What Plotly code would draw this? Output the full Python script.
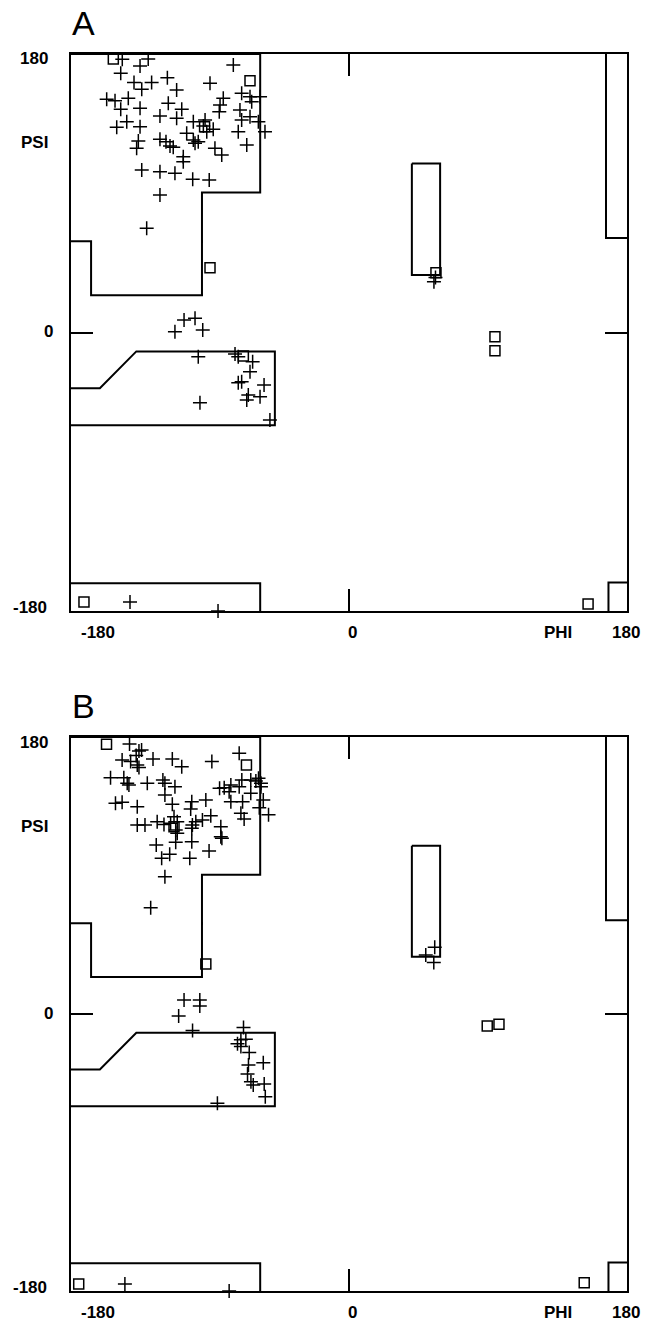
import plotly.graph_objects as go

W, H = 645, 1322

# ---------------- data (degrees) ----------------
# Panel A : "+" residues
a_plus_phi = [-146.8, -130.0, -135.3, -74.9, -147.8, -139.2, -134.2, -127.8, -117.6, -111.6,
              -90.0, -156.9, -151.5, -142.9, -147.8, -135.3, -117.0, -108.3, -122.4, -111.6,
              -150.4, -143.9, -135.3, -136.4, -137.5, -122.4, -118.5, -115.9, -113.8, -105.1,
              -100.8, -99.7, -97.6, -100.8, -93.2, -94.3, -87.9, -92.1, -107.3, -107.3,
              -86.8, -82.4, -134.2, -122.4, -112.7, -101.2, -90.5, -122.4, -131.0, -81.4,
              -83.5, -84.0, -69.5, -64.1, -57.6, -70.6, -63.0, -64.1, -69.5, -58.7,
              -54.4, -71.7, -66.2,
              -106.8, -99.7, -112.7, -94.7, -97.6, -73.8, -71.7, -62.4, -64.1, -69.5,
              -71.7, -55.0, -65.2, -57.6, -66.2, -96.5, -51.2,
              56.0, 55.0, -141.8, -84.8]
a_plus_psi = [176.6, 176.8, 172.2, 172.9, 167.5, 161.5, 157.2, 161.5, 164.7, 156.7,
              161.1, 150.7, 149.8, 151.4, 144.3, 144.9, 148.1, 144.3, 139.9, 138.4,
              132.6, 136.2, 133.0, 123.8, 119.1, 124.9, 123.3, 120.5, 119.7, 128.7,
              124.4, 122.3, 123.3, 136.2, 137.3, 133.5, 131.3, 129.8, 113.6, 110.4,
              119.1, 114.7, 105.0, 103.9, 102.9, 99.0, 98.6, 88.9, 67.3, 151.4,
              147.0, 142.7, 154.6, 152.4, 152.4, 143.8, 149.2, 139.5, 137.3, 136.2,
              129.8, 129.8, 121.2,
              8.1, 9.2, 0.5, 1.6, -15.7, -13.9, -15.7, -18.9, -25.4, -31.8,
              -32.5, -34.0, -40.4, -41.5, -43.7, -45.4, -56.6,
              35.5, 32.8, -174.2, -180.0]
# Panel A : squares (glycines)
a_sq_phi = [-152.6, -64.1, -93.5, -90.0, -68.4, 56.3, 94.5, 94.5, -171.6, 154.8]
a_sq_psi = [176.8, 162.7, 133.0, 41.9, -15.2, 38.6, -2.7, -11.8, -174.2, -175.5]

# Panel B : "+" residues
b_plus_phi = [-142.1, -136.0, -134.3, -137.8, -146.9, -141.4, -137.1, -136.0, -126.9, -114.4,
              -108.3, -88.8, -71.1, -154.4, -145.8, -143.6, -142.5, -130.6, -120.5, -119.2,
              -112.7, -119.2, -151.2, -146.9, -137.1, -114.4, -101.8, -92.7, -102.5, -137.1,
              -132.1, -124.2, -119.8, -115.5, -113.3, -111.2, -112.2, -111.2, -101.4, -99.2,
              -94.9, -89.5, -101.8, -83.0, -83.0, -82.3, -124.8, -112.2, -101.8, -90.6,
              -121.3, -116.1, -103.1, -119.2, -128.4, -83.8, -80.8, -76.5, -77.6, -71.1,
              -69.4, -63.6, -58.6, -57.0, -63.6, -57.0, -76.5, -68.9, -70.0, -67.9,
              -55.5, -58.1, -52.1, -60.3,
              -106.8, -96.6, -96.6, -110.3, -101.3, -68.3, -66.8, -70.0, -72.2, -70.0,
              -64.6, -65.1, -55.5, -65.7, -63.5, -62.0, -54.9, -54.2, -85.2,
              55.5, 49.7, 54.9, -145.1, -77.6]
b_plus_psi = [175.5, 170.9, 171.6, 167.9, 165.1, 164.0, 161.8, 160.1, 165.7, 165.7,
              160.7, 164.0, 169.4, 153.6, 153.6, 150.0, 148.8, 150.0, 152.1, 150.0,
              147.7, 142.3, 136.9, 137.6, 134.7, 136.3, 138.0, 139.1, 133.2, 122.8,
              122.8, 125.0, 123.2, 123.9, 128.2, 125.0, 119.6, 117.4, 122.8, 125.0,
              126.1, 128.9, 120.7, 121.7, 115.2, 114.2, 109.8, 111.6, 112.0, 105.9,
              101.2, 103.8, 101.2, 89.2, 69.1, 146.7, 147.1, 148.8, 144.5, 147.7,
              152.1, 152.1, 153.2, 150.0, 143.4, 147.7, 138.0, 138.0, 130.4, 126.7,
              139.1, 134.1, 129.4, 151.4,
              9.1, 9.1, 5.2, -1.3, -10.8, -8.7, -16.4, -16.8, -19.4, -21.1,
              -25.0, -33.1, -31.6, -39.0, -44.0, -46.1, -45.5, -53.7, -58.0,
              43.3, 38.3, 33.4, -175.4, -180.0]
# Panel B : squares (glycines)
b_sq_phi = [-157.0, -66.4, -113.3, -92.7, 89.5, 97.1, -175.0, 152.3]
b_sq_psi = [175.3, 161.8, 121.7, 32.5, -7.8, -6.7, -175.4, -174.6]

# Allowed-region outlines (phi, psi vertices)
beta_phi = [-180, -57.5, -57.5, -95.2, -95.2, -167.0, -167.0, -180]
beta_psi = [180, 180, 90.5, 90.5, 24.0, 24.0, 59.0, 59.0]
alpha_phi = [-180, -161.3, -137.7, -48.0, -48.0, -180]
alpha_psi = [-36.0, -36.0, -12.2, -12.2, -60.0, -60.0]
lowleft_phi = [-180, -57.5, -57.5]
lowleft_psi = [-162.0, -162.0, -180]
lowright_phi = [168.0, 168.0, 180]
lowright_psi = [-180, -161.5, -161.5]
topright_phi = [166.4, 166.4, 180]
topright_psi = [180, 61.0, 61.0]
lha_phi = [40.7, 59.0, 59.0, 40.7, 40.7]
lha_psi = [109.3, 109.3, 37.2, 37.2, 109.3]

regions = [(beta_phi, beta_psi), (alpha_phi, alpha_psi), (lowleft_phi, lowleft_psi),
           (lowright_phi, lowright_psi), (topright_phi, topright_psi), (lha_phi, lha_psi)]

panels = [
    dict(name="A", plus=(a_plus_phi, a_plus_psi), sq=(a_sq_phi, a_sq_psi), top=54, bottom=611),
    dict(name="B", plus=(b_plus_phi, b_plus_psi), sq=(b_sq_phi, b_sq_psi), top=737, bottom=1291),
]

LEFT, RIGHT = 71, 627
FONT = "Liberation Sans, Arial, Helvetica, sans-serif"

fig = go.Figure()
annotations = []


def px(x):
    return x / W


def py(y):
    return 1 - y / H


for i, p in enumerate(panels):
    xa = "x" if i == 0 else "x2"
    ya = "y" if i == 0 else "y2"
    for rphi, rpsi in regions:
        fig.add_trace(go.Scatter(x=rphi, y=rpsi, mode="lines", xaxis=xa, yaxis=ya,
                                 line=dict(color="black", width=2), hoverinfo="skip",
                                 showlegend=False, cliponaxis=False))
    fig.add_trace(go.Scatter(x=p["plus"][0], y=p["plus"][1], mode="markers", xaxis=xa, yaxis=ya,
                             marker=dict(symbol="cross-thin", size=10, color="black",
                                         line=dict(color="black", width=1.5)),
                             showlegend=False, cliponaxis=False))
    fig.add_trace(go.Scatter(x=p["sq"][0], y=p["sq"][1], mode="markers", xaxis=xa, yaxis=ya,
                             marker=dict(symbol="square-open", size=10, color="black",
                                         line=dict(color="black", width=1.5)),
                             showlegend=False, cliponaxis=False))

    top, bot = p["top"], p["bottom"]
    mid = (top + bot) / 2
    txt = dict(showarrow=False, xref="paper", yref="paper", xanchor="center", yanchor="middle",
               font=dict(family=FONT, size=17, color="black"))
    # panel letter
    annotations.append(dict(txt, x=px(83), y=py(top - 31), text=p["name"],
                            font=dict(family=FONT, size=34, color="black")))
    # psi labels
    annotations.append(dict(txt, x=px(34), y=py(top + 5), text="<b>180</b>"))
    annotations.append(dict(txt, x=px(34), y=py(top + 89), text="<b>PSI</b>"))
    annotations.append(dict(txt, x=px(48), y=py(mid - 1), text="<b>0</b>"))
    annotations.append(dict(txt, x=px(30), y=py(bot - 4), text="<b>-180</b>"))
    # phi labels
    annotations.append(dict(txt, x=px(98), y=py(bot + 21), text="<b>-180</b>"))
    annotations.append(dict(txt, x=px(352), y=py(bot + 21), text="<b>0</b>"))
    annotations.append(dict(txt, x=px(558), y=py(bot + 21), text="<b>PHI</b>"))
    annotations.append(dict(txt, x=px(626), y=py(bot + 21), text="<b>180</b>"))

axis_common = dict(range=[-180, 180], showgrid=False, zeroline=False, showline=True,
                   linecolor="black", linewidth=2, mirror="ticks", ticks="inside",
                   tickvals=[0], ticklen=22, tickwidth=2, tickcolor="black",
                   showticklabels=False, fixedrange=True)

layout = dict(
    width=W, height=H, margin=dict(l=0, r=0, t=0, b=0),
    paper_bgcolor="white", plot_bgcolor="white",
    showlegend=False, annotations=annotations,
    xaxis=dict(axis_common, domain=[px(LEFT), px(RIGHT)], anchor="y"),
    yaxis=dict(axis_common, domain=[py(panels[0]["bottom"]), py(panels[0]["top"])], anchor="x"),
    xaxis2=dict(axis_common, domain=[px(LEFT), px(RIGHT)], anchor="y2"),
    yaxis2=dict(axis_common, domain=[py(panels[1]["bottom"]), py(panels[1]["top"])], anchor="x2"),
)
fig.update_layout(**layout)
# remove the browser's default page margin so the figure fills the window exactly
fig.write_html("out.html", config={"displayModeBar": False},
               post_script="document.body.style.margin='0';document.body.style.overflow='hidden';")
